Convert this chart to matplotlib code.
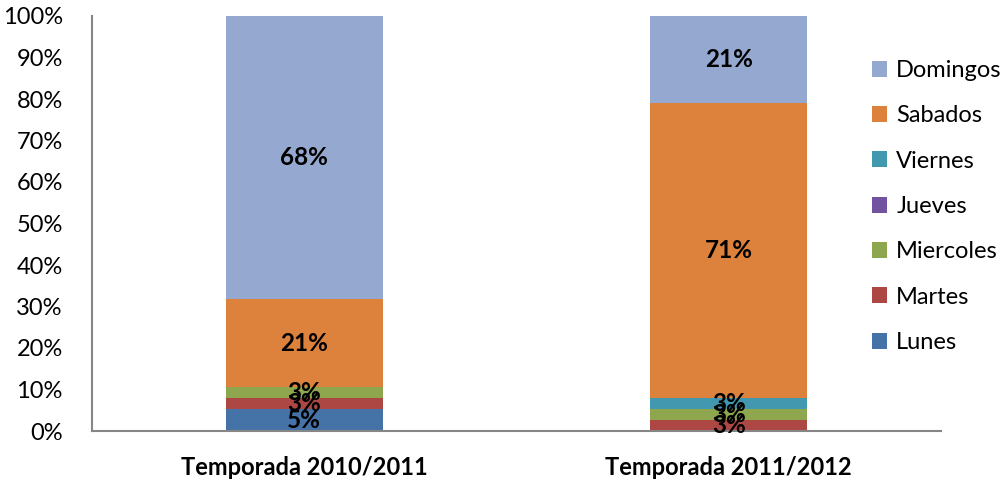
import matplotlib.pyplot as plt
import numpy as np

plt.rcParams['font.family'] = ['Lato', 'DejaVu Sans']

categories = ["Temporada 2010/2011", "Temporada 2011/2012"]
days = ["Lunes", "Martes", "Miercoles", "Jueves", "Viernes", "Sabados", "Domingos"]
lunes = [5.3, 0.0]
martes = [2.6, 2.6]
miercoles = [2.7, 2.6]
jueves = [0.0, 0.0]
viernes = [0.0, 2.8]
sabados = [21.1, 71.0]
domingos = [68.3, 21.0]
colors = ["#4572A7", "#AC4744", "#8EA74F", "#7153A0", "#4198AF", "#DD823D", "#95A9D0"]

series = [lunes, martes, miercoles, jueves, viernes, sabados, domingos]

fig = plt.figure(figsize=(10.05, 4.8), dpi=100)
ax = fig.add_axes([92 / 1005, 49 / 480, 849 / 1005, 415 / 480])

x = np.arange(len(categories))
bottom = np.zeros(len(categories))
handles = []
for name, vals, col in zip(days, series, colors):
    vals = np.array(vals)
    h = ax.bar(x, vals, 0.37, bottom=bottom, color=col, label=name)
    handles.append(h)
    for xi, v, b in zip(x, vals, bottom):
        if v > 0:
            ax.text(xi, b + v / 2, f"{round(v)}%", ha='center', va='center',
                    fontsize=17.5, fontweight='bold')
    bottom += vals

ax.set_xlim(-0.5, 1.5)
ax.set_ylim(0, 100)
ax.set_yticks(range(0, 101, 10))
ax.set_yticklabels([f"{t}%" for t in range(0, 101, 10)], fontsize=17)
ax.set_xticks(x)
ax.set_xticklabels(categories, fontsize=17, fontweight='bold')
ax.tick_params(axis='y', length=0, pad=21)
ax.tick_params(axis='x', length=0, pad=18)
for s in ['top', 'right']:
    ax.spines[s].set_visible(False)
for s in ['left', 'bottom']:
    ax.spines[s].set_color('#868686')
    ax.spines[s].set_linewidth(1.5)

fig.legend(handles[::-1], days[::-1], loc='upper left', bbox_to_anchor=(872 / 1005, 420 / 480),
           frameon=False, fontsize=17, handlelength=0.65, handleheight=0.65,
           handletextpad=0.38, labelspacing=1.03, borderpad=0, borderaxespad=0)

fig.savefig("out.png", dpi=100)
